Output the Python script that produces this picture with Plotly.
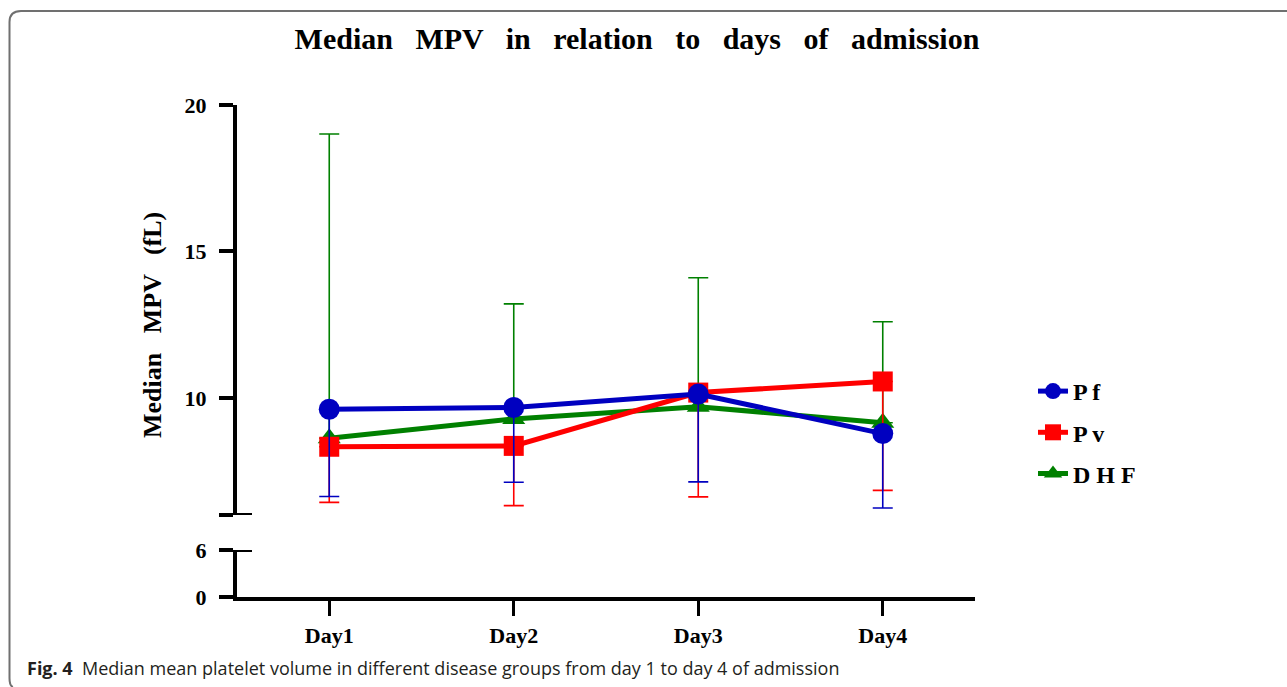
import plotly.graph_objects as go

days = ["Day1", "Day2", "Day3", "Day4"]

pf_median = [9.61, 9.67, 10.13, 8.78]
pf_lower = [6.63, 7.12, 7.13, 6.24]

pv_median = [8.33, 8.36, 10.18, 10.56]
pv_lower = [6.43, 6.32, 6.62, 6.84]

dhf_median = [8.62, 9.28, 9.70, 9.15]
dhf_upper = [19.01, 13.21, 14.10, 12.60]

y_upper_ticks = [6, 10, 15, 20]
y_upper_labels = ["", "10", "15", "20"]
y_lower_ticks = [0, 6]
y_lower_labels = ["0", "6"]

W, H = 1287, 687
ML, MR, MT, MB = 237, 312, 105, 90
PW, PH = W - ML - MR, H - MT - MB


def px2paper(px, py):
    return (px - ML) / PW, (H - MB - py) / PH


BLUE = "#0000C0"
RED = "#FF0000"
GREEN = "#008000"
SERIF = "Liberation Serif"

fig = go.Figure()

fig.add_trace(go.Scatter(
    x=days, y=dhf_median, name="D H F", mode="lines+markers",
    xaxis="x", yaxis="y2", legendgroup="c", legendrank=3,
    line=dict(color=GREEN, width=5),
    marker=dict(symbol="triangle-up", size=20, color=GREEN),
    error_y=dict(type="data", symmetric=False,
                 array=[u - m for u, m in zip(dhf_upper, dhf_median)],
                 arrayminus=[0, 0, 0, 0],
                 color=GREEN, thickness=1.6, width=10),
))
fig.add_trace(go.Scatter(
    x=days, y=pv_median, name="P v", mode="lines+markers",
    xaxis="x", yaxis="y2", legendgroup="b", legendrank=2,
    line=dict(color=RED, width=5),
    marker=dict(symbol="square", size=20, color=RED),
    error_y=dict(type="data", symmetric=False,
                 array=[0, 0, 0, 0],
                 arrayminus=[m - l for m, l in zip(pv_median, pv_lower)],
                 color=RED, thickness=1.6, width=10),
))
fig.add_trace(go.Scatter(
    x=days, y=pf_median, name="P f", mode="lines+markers",
    xaxis="x", yaxis="y2", legendgroup="a", legendrank=1,
    line=dict(color=BLUE, width=5),
    marker=dict(symbol="circle", size=21, color=BLUE),
    error_y=dict(type="data", symmetric=False,
                 array=[0, 0, 0, 0],
                 arrayminus=[m - l for m, l in zip(pf_median, pf_lower)],
                 color=BLUE, thickness=1.6, width=10),
))
# empty trace so the lower axis segment exists
fig.add_trace(go.Scatter(x=[], y=[], xaxis="x", yaxis="y", showlegend=False,
                         hoverinfo="skip"))

tickfont = dict(family=SERIF, size=22, color="black", weight="bold")

shapes = []
# break marks (inner half of the tick at 6 on both segments)
for yref in ["y2", "y"]:
    shapes.append(dict(type="line", xref="paper", yref=yref,
                       x0=0, x1=15 / PW, y0=6, y1=6,
                       line=dict(color="black", width=4)))
# rounded frame
x1p, y1p = px2paper(1290, 11)
xa, ya = px2paper(21, 11)
xc, yc = px2paper(9.5, 11)
xb, yb = px2paper(9.5, 22)
xd, yd = px2paper(9.5, 678)
xe, ye = px2paper(9.5, 686)
xf, yf = px2paper(13, 687)
path = (f"M {x1p},{y1p} L {xa},{ya} Q {xc},{yc} {xb},{yb} "
        f"L {xd},{yd} Q {xe},{ye} {xf},{yf}")
shapes.append(dict(type="path", xref="paper", yref="paper", path=path,
                   line=dict(color="#707070", width=2)))

tx, ty = px2paper(152, 325)
cx, cy = px2paper(25, 668)

fig.update_layout(
    width=W, height=H,
    margin=dict(l=ML, r=MR, t=MT, b=MB),
    paper_bgcolor="white", plot_bgcolor="white",
    title=dict(text="Median   MPV   in   relation   to   days   of   admission",
               x=637 / W, xanchor="center", y=1 - 38 / H, yanchor="middle",
               font=dict(family=SERIF, size=30, color="black", weight="bold")),
    xaxis=dict(
        type="category", categoryorder="array", categoryarray=days,
        range=[-0.5, 3.5], anchor="y",
        showline=True, linecolor="black", linewidth=4,
        ticks="outside", ticklen=15, tickwidth=3, tickcolor="black",
        tickfont=tickfont, showgrid=False, zeroline=False,
        ticklabelstandoff=1,
    ),
    yaxis=dict(
        domain=[0, 47 / PH], range=[0, 6], anchor="x",
        tickvals=y_lower_ticks, ticktext=y_lower_labels,
        showline=True, linecolor="black", linewidth=4,
        ticks="outside", ticklen=14, tickwidth=4, tickcolor="black",
        tickfont=tickfont, showgrid=False, zeroline=False,
        ticklabelstandoff=8,
    ),
    yaxis2=dict(
        domain=[82 / PH, 1], range=[6, 20], anchor="x",
        tickvals=y_upper_ticks, ticktext=y_upper_labels,
        showline=True, linecolor="black", linewidth=4,
        ticks="outside", ticklen=14, tickwidth=4, tickcolor="black",
        tickfont=tickfont, showgrid=False, zeroline=False,
        ticklabelstandoff=8,
    ),
    legend=dict(
        x=(1033 - ML) / PW, xanchor="left",
        y=(H - MB - 369) / PH, yanchor="top",
        traceorder="grouped", tracegroupgap=7,
        font=dict(family=SERIF, size=24, color="black", weight="bold"),
        bgcolor="rgba(0,0,0,0)",
    ),
    annotations=[
        dict(text="Median   MPV   (fL)", textangle=-90, xref="paper", yref="paper",
             x=tx, y=ty, xanchor="center", yanchor="middle", showarrow=False,
             font=dict(family=SERIF, size=26, color="black", weight="bold")),
        dict(text="<b>Fig. 4</b>  Median mean platelet volume in different disease groups from day 1 to day 4 of admission",
             xref="paper", yref="paper", x=cx, y=cy, xanchor="left",
             yanchor="middle", showarrow=False,
             font=dict(family="Open Sans", size=18, color="#231f20")),
    ],
    shapes=shapes,
    showlegend=True,
)

fig.write_html("out.html", config={"displayModeBar": False},
               post_script="document.body.style.margin='0px';")
